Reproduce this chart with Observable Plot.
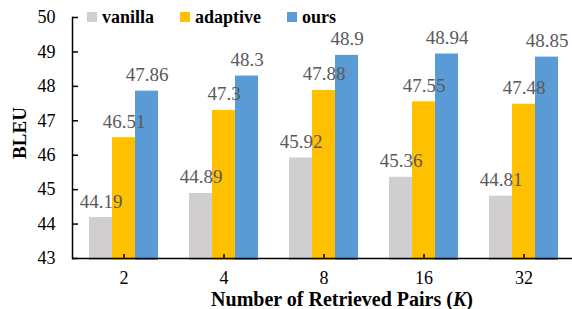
<!DOCTYPE html>
<html>
<head>
<meta charset="utf-8">
<script src="https://cdn.jsdelivr.net/npm/d3@7"></script>
<script src="https://cdn.jsdelivr.net/npm/@observablehq/plot@0.6"></script>
<style>
  html, body { margin: 0; padding: 0; background: #fff; }
  #wrap { position: relative; width: 572px; height: 309px; font-family: "Liberation Serif", "Times New Roman", "DejaVu Serif", serif; }
  #legend { position: absolute; left: 87px; top: 7px; display: flex; gap: 26px; font-weight: bold; font-size: 18px; line-height: 20px; }
  #legend .item { display: flex; align-items: center; }
  #legend .sw { width: 10px; height: 10px; margin-right: 5px; }
  #xtitle { position: absolute; left: 342px; top: 290.75px; transform: translateX(-50%); font-weight: bold; font-size: 20px; line-height: 16px; white-space: nowrap; }
  #ytitle { position: absolute; left: 18.5px; top: 133px; transform: translate(-50%, -50%) rotate(-90deg); font-weight: bold; font-size: 19px; line-height: 19px; white-space: nowrap; }
  #chart svg { position: absolute; left: 0; top: 0; }
  #chart svg text { font-family: "Liberation Serif", "Times New Roman", "DejaVu Serif", serif; }
</style>
</head>
<body>
<div id="wrap">
  <div id="chart"></div>
  <div id="legend"></div>
  <div id="ytitle"></div>
  <div id="xtitle"></div>
</div>
<script>
const K = ["2", "4", "8", "16", "32"];
const vanilla = [44.19, 44.89, 45.92, 45.36, 44.81];
const adaptive = [46.51, 47.3, 47.88, 47.55, 47.48];
const ours = [47.86, 48.3, 48.9, 48.94, 48.85];
const seriesNames = ["vanilla", "adaptive", "ours"];
const seriesColors = ["#d0cece", "#ffc000", "#5b9bd5"];
const yTicks = [43, 44, 45, 46, 47, 48, 49, 50];
const yLabel = "BLEU";
const xTitle = "Number of Retrieved Pairs (";
const xTitleItalic = "K";

const seriesValues = [vanilla, adaptive, ours];
const data = K.flatMap((k, i) => seriesNames.map((s, j) => ({K: k, series: s, idx: j, value: seriesValues[j][i]})));

const barW = 23;
const marks = [];
seriesNames.forEach((s, j) => {
  marks.push(Plot.barY(data.filter(d => d.series === s), {
    x: "K", y1: 43, y2: "value", fill: seriesColors[j],
    insetLeft: j * barW, insetRight: (2 - j) * barW, insetBottom: -2
  }));
});
seriesNames.forEach((s, j) => {
  marks.push(Plot.text(data.filter(d => d.series === s), {
    x: "K", y: "value", text: d => String(d.value),
    dx: (j - 1) * barW, dy: -10, lineAnchor: "bottom",
    fill: "#595959", fontSize: 19
  }));
});
// axes
marks.push(Plot.axisY({ticks: yTicks, tickSize: 6, dx: 6, tickFormat: () => "", label: null, strokeWidth: 1.5}));
marks.push(Plot.axisY({ticks: yTicks, tickSize: 0, tickPadding: 17, tickFormat: d => String(d), fontSize: 18, fill: "#000", label: null}));
marks.push(Plot.axisX({tickSize: 4, dy: -4, tickFormat: () => "", label: null, strokeWidth: 1.5}));
marks.push(Plot.axisX({tickSize: 0, tickPadding: 13, fontSize: 18, fill: "#000", label: null}));
marks.push(Plot.frame({anchor: "left", strokeWidth: 1.5}));
marks.push(Plot.ruleY([43], {strokeWidth: 1.5}));

const chart = Plot.plot({
  width: 572,
  height: 309,
  marginTop: 17,
  marginBottom: 51,
  marginLeft: 72,
  marginRight: -2.5,
  style: {fontFamily: '"Liberation Serif", "Times New Roman", "DejaVu Serif", serif', background: "#fff", overflow: "visible"},
  x: {domain: K, paddingInner: 0.3134, paddingOuter: 0.1567, label: null, axis: null},
  y: {domain: [43, 50], label: null, axis: null},
  marks
});
document.getElementById("chart").appendChild(chart);

// legend
const legend = document.getElementById("legend");
seriesNames.forEach((s, j) => {
  const it = document.createElement("div");
  it.className = "item";
  const sw = document.createElement("span");
  sw.className = "sw";
  sw.style.background = seriesColors[j];
  const tx = document.createElement("span");
  tx.textContent = s;
  it.appendChild(sw); it.appendChild(tx);
  legend.appendChild(it);
});
document.getElementById("ytitle").textContent = yLabel;
// x title
const xt = document.getElementById("xtitle");
xt.appendChild(document.createTextNode(xTitle));
const em = document.createElement("i");
em.textContent = xTitleItalic;
xt.appendChild(em);
xt.appendChild(document.createTextNode(")"));
</script>
</body>
</html>
